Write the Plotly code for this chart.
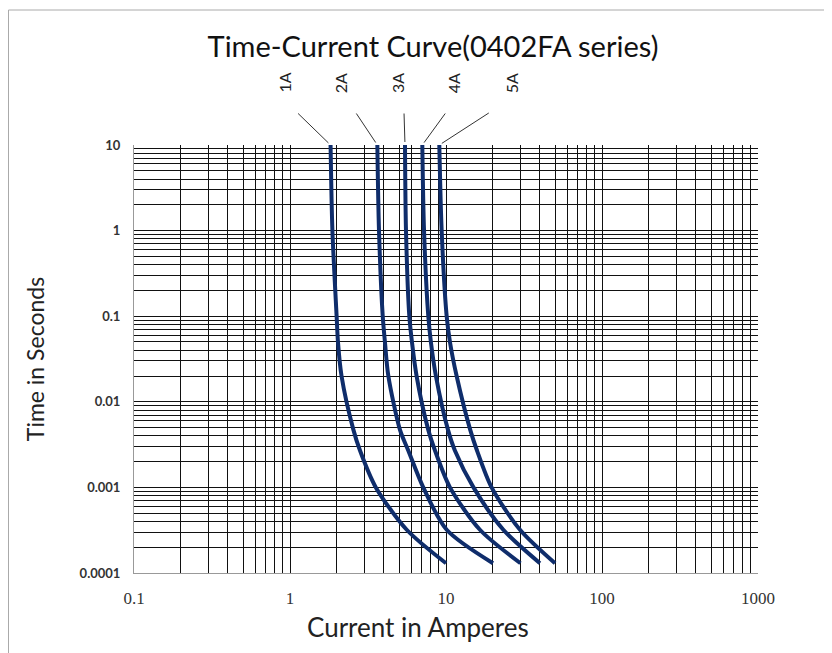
import plotly.graph_objects as go
import math

# ---- data ----
ratings = ["1A", "2A", "3A", "4A", "5A"]
times_s = [10, 1, 0.1, 0.05, 0.02, 0.0047, 0.0027, 0.001, 0.00032, 0.00013]
current_1a = [1.82, 1.87, 1.99, 2.03, 2.14, 2.55, 2.81, 3.55, 5.6, 10]
current_2a = [3.63, 3.72, 3.93, 4.06, 4.27, 5.07, 5.73, 7.15, 10.1, 20]
current_3a = [5.46, 5.54, 5.82, 6.05, 6.48, 7.7, 8.5, 10.6, 16.5, 30]
current_4a = [7.05, 7.23, 7.7, 8.0, 8.62, 10.3, 11.4, 15.0, 23.3, 40]
current_5a = [9.06, 9.38, 10.1, 10.6, 11.7, 14.3, 15.8, 19.6, 29.8, 50]
x_tick_vals = [0.1, 1, 10, 100, 1000]
x_tick_text = ["0.1", "1", "10", "100", "1000"]
y_tick_vals = [0.0001, 0.001, 0.01, 0.1, 1, 10]
y_tick_text = ["0.0001", "0.001", "0.01", "0.1", "1", "10"]

currents = [current_1a, current_2a, current_3a, current_4a, current_5a]

NAVY = "#0f2d6b"
SANS = "Lato, 'Open Sans', sans-serif"

# page body has an 8px default margin, so the figure is 8px smaller
W, H = 824, 645
ML, MR, MT, MB = 126, 74, 137, 80
PW, PH = W - ML - MR, H - MT - MB

fig = go.Figure()
for name, cur in zip(ratings, currents):
    fig.add_trace(go.Scatter(
        x=cur, y=times_s, mode="lines", name=name, showlegend=False,
        line=dict(color=NAVY, width=4, shape="spline", smoothing=0.8),
    ))

# leader lines and rotated labels
tail_dx = [-34, -22, -1, 24, 51]
label_dx = [-47, -37, -8, 31, 72]
for name, cur, dx, ldx in zip(ratings, currents, tail_dx, label_dx):
    xt = math.log10(cur[0])
    yt = math.log10(times_s[0])
    fig.add_annotation(x=xt, y=yt, xref="x", yref="y", text="", showarrow=True,
                       arrowhead=0, arrowwidth=1, arrowcolor="#333333",
                       ax=dx, ay=-33, standoff=3)
    fig.add_annotation(x=xt, y=yt, xref="x", yref="y", text=name, showarrow=False,
                       textangle=-90, xshift=ldx, yshift=62,
                       font=dict(family=SANS, size=16, color="#222222"))

fig.update_xaxes(
    type="log", range=[-1, 3], tickvals=x_tick_vals, ticktext=x_tick_text,
    tickfont=dict(family="'Liberation Serif', serif", size=17, color="#333333"),
    showline=True, linecolor="#999999", linewidth=1, zeroline=False,
    ticks="", ticklabelstandoff=10, automargin=False,
    showgrid=True, gridcolor="#111111", gridwidth=1,
    minor=dict(showgrid=True, gridcolor="#111111", gridwidth=1, dtick="D1", ticks=""),
)
fig.update_yaxes(
    type="log", range=[-4, 1], tickvals=y_tick_vals, ticktext=y_tick_text,
    tickfont=dict(family=SANS, size=13, color="#333333", weight="bold"),
    showline=True, linecolor="#999999", linewidth=1, zeroline=False,
    ticks="", ticklabelstandoff=10, automargin=False,
    showgrid=True, gridcolor="#111111", gridwidth=1,
    minor=dict(showgrid=True, gridcolor="#111111", gridwidth=1, dtick="D1", ticks=""),
    title=dict(text="Time in Seconds", font=dict(family=SANS, size=23, color="#222222"),
               standoff=28),
)

# x axis title (offset left of the plot centre, as in the reference)
fig.add_annotation(xref="paper", yref="paper", x=(418 - 8 - ML) / PW,
                   y=(MT + PH - (627 - 8)) / PH, text="Current in Amperes",
                   showarrow=False, xanchor="center", yanchor="middle",
                   font=dict(family=SANS, size=26, color="#222222"))

# outer frame (top and left edges visible)
fx = (0.5 - ML) / PW
fy = (MT + PH - 2) / PH
fig.add_shape(type="line", xref="paper", yref="paper", x0=fx, x1=1.3, y0=fy, y1=fy,
              line=dict(color="#aaaaaa", width=1))
fig.add_shape(type="line", xref="paper", yref="paper", x0=fx, x1=fx, y0=-0.3, y1=fy,
              line=dict(color="#aaaaaa", width=1))

fig.update_layout(
    width=W, height=H, autosize=False,
    margin=dict(l=ML, r=MR, t=MT, b=MB),
    paper_bgcolor="white", plot_bgcolor="white",
    title=dict(text="Time-Current Curve(0402FA series)", x=(433 - 8) / W, xanchor="center",
               y=1 - (47 - 8) / H, yanchor="middle", yref="container",
               font=dict(family=SANS, size=29, color="#111111")),
)

fig.write_html("out.html")
